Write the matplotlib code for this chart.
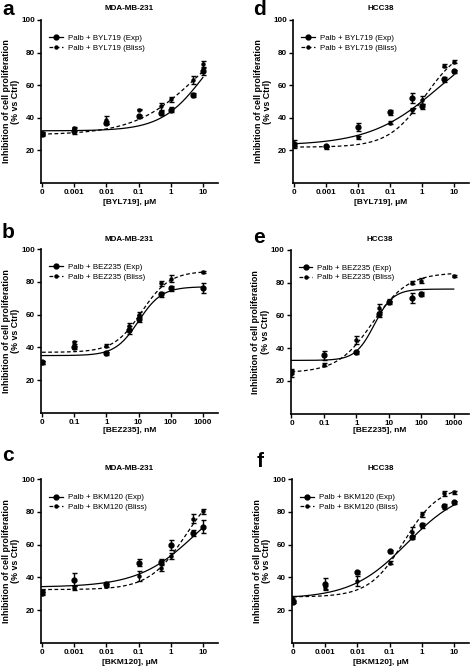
import matplotlib
matplotlib.use("Agg")
import matplotlib.pyplot as plt
from matplotlib.lines import Line2D
import numpy as np

plt.rcParams['font.family'] = ['Liberation Sans', 'DejaVu Sans']
plt.rcParams['font.weight'] = 'bold'

# Dosen
dose_um = [0, 0.001, 0.01, 0.1, 0.5, 1, 5, 10]
dose_nm = [0, 0.1, 1, 5, 10, 50, 100, 1000]
ticks_um = ['0', '0.001', '0.01', '0.1', '1', '10']
ticks_nm = ['0', '0.1', '1', '10', '100', '1000']

# a: MDA-MB-231 + BYL719
a_exp = [30, 32, 37, 41, 43, 45, 54, 68.5]
a_exp_err = [1, 2, 1, 1, 1, 1.5, 1, 2]
a_bliss = [30.5, 33.5, 38.5, 45, 47, 51.5, 63, 73]
a_bliss_err = [1, 1, 2.5, 0.5, 2, 1.5, 2.5, 2]
a_fit_exp = [32, 100, 1.05, 0.65]      # bottom, top, logEC50, hill
a_fit_bliss = [29.5, 100, 0.8, 0.45]

# d: HCC38 + BYL719
d_exp = [24, 22.5, 34.5, 43.5, 52, 47, 63.5, 68.5]
d_exp_err = [2.5, 0.5, 2.5, 1.5, 3, 1.5, 1.5, 1]
d_bliss = [23.5, 22, 28, 37, 44.5, 51, 72, 74.5]
d_bliss_err = [1, 1, 1, 1, 1.5, 2.5, 1, 1]
d_fit_exp = [23, 95, 0.55, 0.4]
d_fit_bliss = [22, 85, 0.1, 0.75]

# b: MDA-MB-231 + BEZ235
b_exp = [31, 40, 36.5, 50.5, 57.5, 72.5, 76, 76]
b_exp_err = [1, 1, 1, 2.5, 2, 1.5, 1.5, 3]
b_bliss = [31, 43, 41, 53, 60, 79, 82, 86]
b_bliss_err = [1, 1, 1, 2, 1.5, 1.5, 2, 0.5]
b_fit_exp = [35, 77, 1.0, 1.2]
b_fit_bliss = [37, 86.5, 1.1, 1.0]

# e: HCC38 + BEZ235
e_exp = [25.5, 35.5, 37.5, 60.5, 68, 70.5, 73, np.nan]
e_exp_err = [1.5, 3, 1, 1.5, 1, 3, 1.5, 0]
e_bliss = [24.5, 30, 45, 64.5, 69, 80, 81, 84]
e_bliss_err = [2, 1, 2.5, 2.5, 1, 1, 1.5, 0.5]
e_fit_exp = [32.5, 76, 0.55, 1.5]
e_fit_bliss = [25, 86, 0.5, 0.8]

# c: MDA-MB-231 + BKM120
c_exp = [31, 38.5, 36, 49, 49.5, 60, 67, 71]
c_exp_err = [1, 4, 1, 2, 2, 3, 2, 4]
c_bliss = [30, 33.5, 35, 41, 46, 53, 76, 80.5]
c_bliss_err = [1, 1, 1, 3, 2, 2, 3, 1.5]
c_fit_exp = [34, 100, 0.81, 0.48]
c_fit_bliss = [32.5, 100, 0.48, 0.755]

# f: HCC38 + BKM120
f_exp = [25, 36, 43, 56, 64.5, 72, 83.5, 86]
f_exp_err = [1, 3.5, 1, 1, 1, 1.5, 1.5, 1]
f_bliss = [27, 34, 38, 49, 68, 78.5, 91.5, 92]
f_bliss_err = [1.5, 1, 3, 1, 3, 1.5, 1.5, 1]
f_fit_exp = [27, 95, -0.45, 0.5]
f_fit_bliss = [28, 96, -0.55, 0.8]


def hill(x, bottom, top, logec50, h):
    return bottom + (top - bottom) / (1 + 10 ** ((logec50 - x) * h))


def panel(rect, letter, letter_xy, title, title_pad, drug, unit, doses, zero_pos, ticks,
          exp, exp_err, bliss, bliss_err, fit_exp, fit_bliss, xlabelpad):
    ax = fig.add_axes(rect)
    d = np.array(doses, dtype=float)
    x = np.log10(np.where(d > 0, d, 10.0 ** zero_pos))
    xs = np.linspace(zero_pos, zero_pos + 5, 300)
    ax.plot(xs, hill(xs, *fit_exp), color='black', lw=0.9)
    ax.plot(xs, hill(xs, *fit_bliss), color='black', lw=0.9, ls=(0, (3, 2)))
    ax.errorbar(x, exp, yerr=exp_err, fmt='o', ms=3.5, color='black',
                capsize=1.8, elinewidth=1, capthick=1)
    ax.errorbar(x, bliss, yerr=bliss_err, fmt='o', ms=2.2, color='black',
                capsize=1.8, elinewidth=1, capthick=1)

    ax.set_xlim(zero_pos - 0.03, zero_pos + 5.47)
    ax.set_ylim(0, 100)
    ax.set_xticks(np.arange(zero_pos, zero_pos + 6))
    ax.set_xticklabels(ticks)
    ax.set_yticks([20, 40, 60, 80, 100])
    ax.spines['top'].set_visible(False)
    ax.spines['right'].set_visible(False)
    ax.spines['left'].set_linewidth(1.2)
    ax.spines['bottom'].set_linewidth(1.2)
    ax.tick_params(direction='out', length=3, width=1, labelsize=5.8, pad=1.2)

    ax.set_title(title, fontsize=5.8, fontweight='bold', pad=title_pad)
    ax.set_xlabel(f'[{drug}], {unit}', fontsize=6, fontweight='bold', labelpad=xlabelpad)
    ax.set_ylabel('Inhibition of cell proliferation\n(% vs Ctrl)', fontsize=6.4,
                  fontweight='bold', labelpad=0.8, linespacing=1.05)

    handles = [Line2D([], [], color='black', lw=0.9, marker='o', ms=3.5),
               Line2D([], [], color='black', lw=0.9, ls=(0, (3, 2)), marker='o', ms=2.2)]
    ax.legend(handles, [f'Palb + {drug} (Exp)', f'Palb + {drug} (Bliss)'],
              loc='upper left', bbox_to_anchor=(0.03, 0.93), frameon=False,
              handlelength=1.7, handletextpad=0.6, labelspacing=0.25,
              borderaxespad=0, prop={'size': 5.7, 'weight': 'normal'})

    fig.text(letter_xy[0] / W, 1 - letter_xy[1] / H, letter, fontsize=15,
             fontweight='bold', va='baseline', ha='left')
    return ax


W, H = 472, 669
fig = plt.figure(figsize=(W / 100, H / 100), dpi=100)

panel([41 / W, 1 - 183 / H, 177 / W, 163 / H], 'a', (2, 15), 'MDA-MB-231', 7,
      'BYL719', 'μM', dose_um, -4, ticks_um,
      a_exp, a_exp_err, a_bliss, a_bliss_err, a_fit_exp, a_fit_bliss, 2.5)
panel([293 / W, 1 - 183 / H, 176 / W, 163 / H], 'd', (253, 15), 'HCC38', 7,
      'BYL719', 'μM', dose_um, -4, ticks_um,
      d_exp, d_exp_err, d_bliss, d_bliss_err, d_fit_exp, d_fit_bliss, 2.5)
panel([41 / W, 1 - 413 / H, 177 / W, 164 / H], 'b', (2, 238), 'MDA-MB-231', 6,
      'BEZ235', 'nM', dose_nm, -2, ticks_nm,
      b_exp, b_exp_err, b_bliss, b_bliss_err, b_fit_exp, b_fit_bliss, 0.5)
panel([290.5 / W, 1 - 413.7 / H, 178.5 / W, 164 / H], 'e', (253, 243), 'HCC38', 6,
      'BEZ235', 'nM', dose_nm, -2, ticks_nm,
      e_exp, e_exp_err, e_bliss, e_bliss_err, e_fit_exp, e_fit_bliss, 0.5)
panel([41 / W, 1 - 642.7 / H, 177 / W, 163.4 / H], 'c', (2, 461), 'MDA-MB-231', 6.5,
      'BKM120', 'μM', dose_um, -4, ticks_um,
      c_exp, c_exp_err, c_bliss, c_bliss_err, c_fit_exp, c_fit_bliss, 2.5)
panel([292 / W, 1 - 642.7 / H, 177 / W, 163.4 / H], 'f', (257, 467), 'HCC38', 6.5,
      'BKM120', 'μM', dose_um, -4, ticks_um,
      f_exp, f_exp_err, f_bliss, f_bliss_err, f_fit_exp, f_fit_bliss, 2.5)

fig.savefig('out.png', dpi=100)
